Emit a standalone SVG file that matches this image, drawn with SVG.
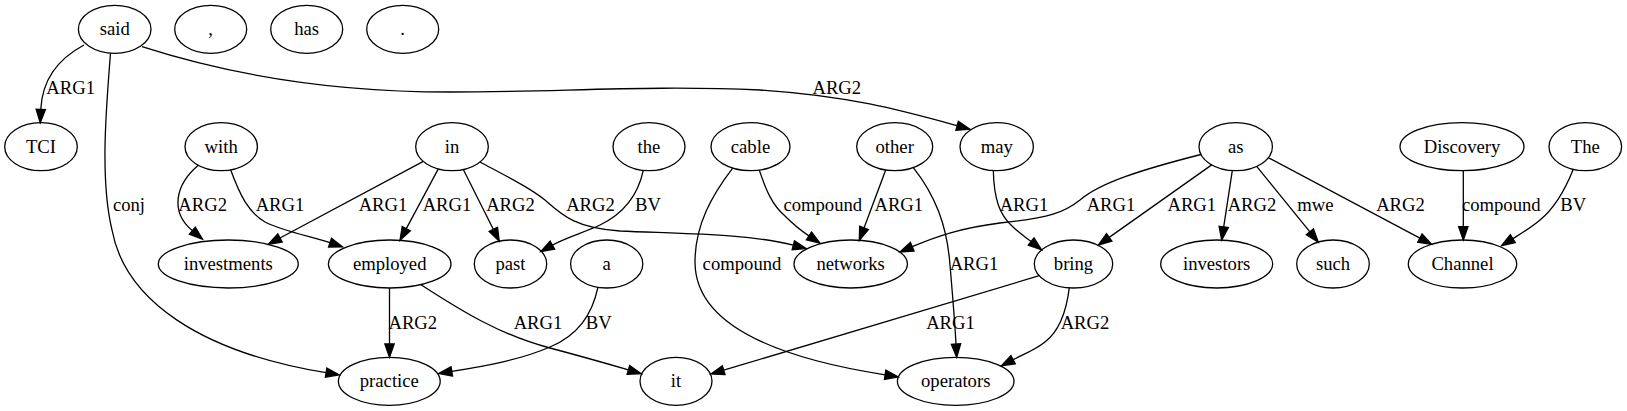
<svg xmlns="http://www.w3.org/2000/svg" width="1627" height="411" viewBox="0 0 1627 411">
<style>
.n ellipse{fill:none;stroke:#000;stroke-width:1.3}
text{font-family:"Liberation Serif","Times New Roman",serif;font-size:18.67px;fill:#000;text-anchor:middle}
.e path{fill:none;stroke:#000;stroke-width:1.3;marker-end:url(#ah)}
</style>
<defs>
<marker id="ah" markerUnits="userSpaceOnUse" markerWidth="16" markerHeight="12" refX="0" refY="4.67" orient="auto" overflow="visible">
<path d="M0,0 L13.3,4.67 L0,9.33 Z" fill="#000" stroke="#000" stroke-width="1.3"/>
</marker>
</defs>
<rect width="1627" height="411" fill="#fff"/>
<g id="edges" class="e">
<path d="M84,45 C56,60 42,82 40.8,109.4"/>
<text x="70.7" y="94">ARG1</text>
<path d="M110.5,53.3 C106,110 100,180 112,230 C125,300 200,352 326.1,372.7"/>
<text x="129" y="211">conj</text>
<path d="M142,46.7 C230,75 330,92 450,92 C560,92 650,85 760,90 C850,96 900,110 957.1,125.7"/>
<text x="836.8" y="94">ARG2</text>
<path d="M198.3,165.3 C175,185 170,212 192.3,230.6"/>
<text x="202.7" y="211">ARG2</text>
<path d="M230.7,170 C240,195 248,212 265,222 C285,232 310,236 330,242.7"/>
<text x="280" y="211">ARG1</text>
<path d="M423.3,161.4 L280,238"/>
<text x="383" y="211">ARG1</text>
<path d="M438.3,168.9 L406.3,228.6"/>
<text x="447" y="211">ARG1</text>
<path d="M463.3,169.5 L493.3,229.3"/>
<text x="510.5" y="211">ARG2</text>
<path d="M480,162 C510,178 530,188 545,200 C562,215 575,228 620,231 C690,234 750,234 793.3,245.2"/>
<text x="590.5" y="211">ARG2</text>
<path d="M643.3,170.4 C638,195 625,213 600,225 C585,232 565,238 552.4,245.1"/>
<text x="648" y="211">BV</text>
<path d="M759.3,170.1 C766,190 772,205 785,216 C793,224 800,230 808.9,235.9"/>
<text x="822.8" y="211">compound</text>
<path d="M732.7,168.1 C712,195 695,225 695,262 C695,330 790,360 885.1,374.8"/>
<text x="742" y="269.5">compound</text>
<path d="M885.7,170 L864,227.9"/>
<text x="898.8" y="211">ARG1</text>
<path d="M913.3,167.6 C935,195 947,225 950,265 C953,300 955,325 956,344"/>
<text x="974" y="269.5">ARG1</text>
<path d="M993.3,170.6 C994,200 1000,215 1012,226 C1018,232 1024,236 1031.1,241.6"/>
<text x="1024" y="211">ARG1</text>
<path d="M1201,154.5 C1140,170 1100,183 1080,200 C1065,212 1050,218 1000,223 C960,228 935,237 912.2,246.7"/>
<text x="1111" y="211">ARG1</text>
<path d="M1211.7,164.9 L1109.2,237.4"/>
<text x="1191.8" y="211">ARG1</text>
<path d="M1232.3,170.6 L1223.7,226.9"/>
<text x="1252" y="211">ARG2</text>
<path d="M1256.7,166.4 L1309.9,231.8"/>
<text x="1315.5" y="211">mwe</text>
<path d="M1268.3,157.7 L1419.9,238.1"/>
<text x="1400.5" y="211">ARG2</text>
<path d="M1463.3,170.7 L1463.3,226.7"/>
<text x="1501.3" y="211">compound</text>
<path d="M1573.3,169.3 C1565,190 1555,208 1540,220 C1532,227 1522,233 1512.8,238.7"/>
<text x="1573.3" y="211">BV</text>
<path d="M389.5,288 L389.5,344"/>
<text x="412.8" y="328.5">ARG2</text>
<path d="M421,284.7 C460,310 500,335 550,348 C580,356 605,363 628.4,369.9"/>
<text x="538" y="328.5">ARG1</text>
<path d="M597.9,287.3 C592,315 578,335 550,347 C520,360 485,366 451.8,371.4"/>
<text x="598.7" y="328.5">BV</text>
<path d="M1039.3,275.7 L723.7,370.2"/>
<text x="950.5" y="328.5">ARG1</text>
<path d="M1069.3,287.6 C1066,315 1058,332 1045,342 C1035,350 1024,354 1013.1,359.7"/>
<text x="1085" y="328.5">ARG2</text>
</g>
<g id="n-said" class="n"><ellipse cx="114.7" cy="29.3" rx="36.3" ry="24"/><text x="114.7" y="35.3">said</text></g>
<g id="n-comma" class="n"><ellipse cx="210.7" cy="29.3" rx="36" ry="24"/><text x="210.7" y="35.3">,</text></g>
<g id="n-has" class="n"><ellipse cx="306.7" cy="29.3" rx="36" ry="24"/><text x="306.7" y="35.3">has</text></g>
<g id="n-period" class="n"><ellipse cx="402.7" cy="29.3" rx="36" ry="24"/><text x="402.7" y="35.3">.</text></g>
<g id="n-TCI" class="n"><ellipse cx="41" cy="146.7" rx="36.3" ry="24"/><text x="41" y="152.7">TCI</text></g>
<g id="n-with" class="n"><ellipse cx="221.2" cy="146.7" rx="36.2" ry="24"/><text x="221.2" y="152.7">with</text></g>
<g id="n-in" class="n"><ellipse cx="452" cy="146.7" rx="36.3" ry="24"/><text x="452" y="152.7">in</text></g>
<g id="n-the" class="n"><ellipse cx="649" cy="146.7" rx="36" ry="24"/><text x="649" y="152.7">the</text></g>
<g id="n-cable" class="n"><ellipse cx="750.5" cy="146.7" rx="39.5" ry="24"/><text x="750.5" y="152.7">cable</text></g>
<g id="n-other" class="n"><ellipse cx="894.7" cy="146.7" rx="38" ry="24"/><text x="894.7" y="152.7">other</text></g>
<g id="n-may" class="n"><ellipse cx="996.7" cy="146.7" rx="36.7" ry="24"/><text x="996.7" y="152.7">may</text></g>
<g id="n-as" class="n"><ellipse cx="1235.7" cy="146.7" rx="36.7" ry="24"/><text x="1235.7" y="152.7">as</text></g>
<g id="n-Discovery" class="n"><ellipse cx="1462" cy="146.7" rx="62" ry="24"/><text x="1462" y="152.7">Discovery</text></g>
<g id="n-The" class="n"><ellipse cx="1585.3" cy="146.7" rx="36.3" ry="24"/><text x="1585.3" y="152.7">The</text></g>
<g id="n-investments" class="n"><ellipse cx="228.3" cy="264" rx="70" ry="24"/><text x="228.3" y="270">investments</text></g>
<g id="n-employed" class="n"><ellipse cx="389.7" cy="264" rx="61.3" ry="24"/><text x="389.7" y="270">employed</text></g>
<g id="n-past" class="n"><ellipse cx="510.5" cy="264" rx="36.2" ry="24"/><text x="510.5" y="270">past</text></g>
<g id="n-a" class="n"><ellipse cx="606.7" cy="264" rx="36.1" ry="24"/><text x="606.7" y="270">a</text></g>
<g id="n-networks" class="n"><ellipse cx="850.7" cy="264" rx="56.7" ry="24"/><text x="850.7" y="270">networks</text></g>
<g id="n-bring" class="n"><ellipse cx="1073.5" cy="264" rx="39.2" ry="24"/><text x="1073.5" y="270">bring</text></g>
<g id="n-investors" class="n"><ellipse cx="1216.7" cy="264" rx="56" ry="24"/><text x="1216.7" y="270">investors</text></g>
<g id="n-such" class="n"><ellipse cx="1333" cy="264" rx="36.3" ry="24"/><text x="1333" y="270">such</text></g>
<g id="n-Channel" class="n"><ellipse cx="1462.5" cy="264" rx="54.2" ry="24"/><text x="1462.5" y="270">Channel</text></g>
<g id="n-practice" class="n"><ellipse cx="389.3" cy="381.3" rx="50.9" ry="24"/><text x="389.3" y="387.3">practice</text></g>
<g id="n-it" class="n"><ellipse cx="676" cy="381.3" rx="36" ry="24"/><text x="676" y="387.3">it</text></g>
<g id="n-operators" class="n"><ellipse cx="955.7" cy="381.3" rx="58.3" ry="24"/><text x="955.7" y="387.3">operators</text></g>
</svg>
